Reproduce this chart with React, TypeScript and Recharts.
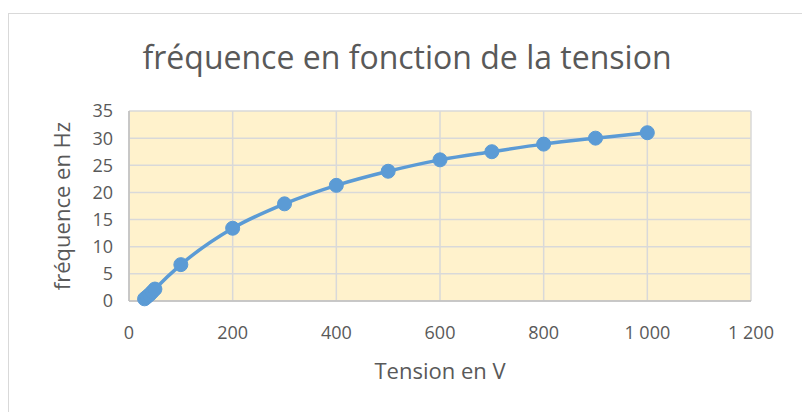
import { CartesianGrid, Label, Line, LineChart, XAxis, YAxis } from "recharts";

// Tension (V) vs. fréquence (Hz)
const TENSION = [30, 35, 40, 45, 50, 100, 200, 300, 400, 500, 600, 700, 800, 900, 1000];
const FREQUENCE = [0.4, 0.8, 1.2, 1.7, 2.2, 6.7, 13.4, 17.9, 21.3, 23.9, 26, 27.5, 28.9, 30, 31];

const X_TICKS = [0, 200, 400, 600, 800, 1000, 1200];
const Y_TICKS = [0, 5, 10, 15, 20, 25, 30, 35];

const TITLE = "fréquence en fonction de la tension";
const X_LABEL = "Tension en V";
const Y_LABEL = "fréquence en Hz";

const data = TENSION.map((v, i) => ({ v, f: FREQUENCE[i] }));

const FONT = "'Open Sans', sans-serif";
const TEXT = "#595959";
const BLUE = "#5b9bd5";

// French-style thousands separator: 1 000
const fmt = (n: number) => String(n).replace(/\B(?=(\d{3})+(?!\d))/g, " ");

export default function App() {
  return (
    <div style={{ position: "absolute", left: 0, top: 0, width: 802, height: 412, overflow: "hidden", background: "#fff" }}>
      {/* chart frame, runs off the right/bottom like the screenshot */}
      <div
        style={{
          position: "absolute",
          left: 8,
          top: 13,
          width: 820,
          height: 420,
          border: "1.5px solid #d9d9d9",
        }}
      />
      <div
        style={{
          position: "absolute",
          left: 6,
          top: 36,
          width: 802,
          textAlign: "center",
          fontFamily: FONT,
          fontSize: 32,
          color: TEXT,
          lineHeight: "42px",
        }}
      >
        {TITLE}
      </div>
      <div style={{ position: "absolute", left: 0, top: 0 }}>
        <LineChart
          width={802}
          height={412}
          data={data}
          margin={{ top: 111, right: 51, bottom: 26, left: 70 }}
        >
          <CartesianGrid stroke="#d9d9d9" strokeWidth={1.5} fill="#fff2cc" />
          <XAxis
            type="number"
            dataKey="v"
            domain={[0, 1200]}
            ticks={X_TICKS}
            tickFormatter={fmt}
            axisLine={{ stroke: "#bfbfbf", strokeWidth: 1.5 }}
            tickLine={false}
            tickMargin={19}
            tick={{ fill: TEXT, fontFamily: FONT, fontSize: 18 }}
            height={85}
            interval={0}
          >
            <Label
              value={X_LABEL}
              position="insideBottom"
              offset={7}
              fill={TEXT}
              fontFamily={FONT}
              fontSize={22}
            />
          </XAxis>
          <YAxis
            type="number"
            domain={[0, 35]}
            ticks={Y_TICKS}
            axisLine={{ stroke: "#bfbfbf", strokeWidth: 1.5 }}
            tickLine={false}
            tickMargin={10}
            tick={{ fill: TEXT, fontFamily: FONT, fontSize: 18 }}
            width={59}
            interval={0}
          >
            <Label
              value={Y_LABEL}
              angle={-90}
              position="insideLeft"
              offset={-8}
              style={{ textAnchor: "middle" }}
              fill={TEXT}
              fontFamily={FONT}
              fontSize={22}
            />
          </YAxis>
          <Line
            type="monotone"
            dataKey="f"
            stroke={BLUE}
            strokeWidth={3.5}
            dot={{ r: 7, fill: BLUE, stroke: BLUE, strokeWidth: 1 }}
            activeDot={false}
            isAnimationActive={false}
          />
        </LineChart>
      </div>
    </div>
  );
}
